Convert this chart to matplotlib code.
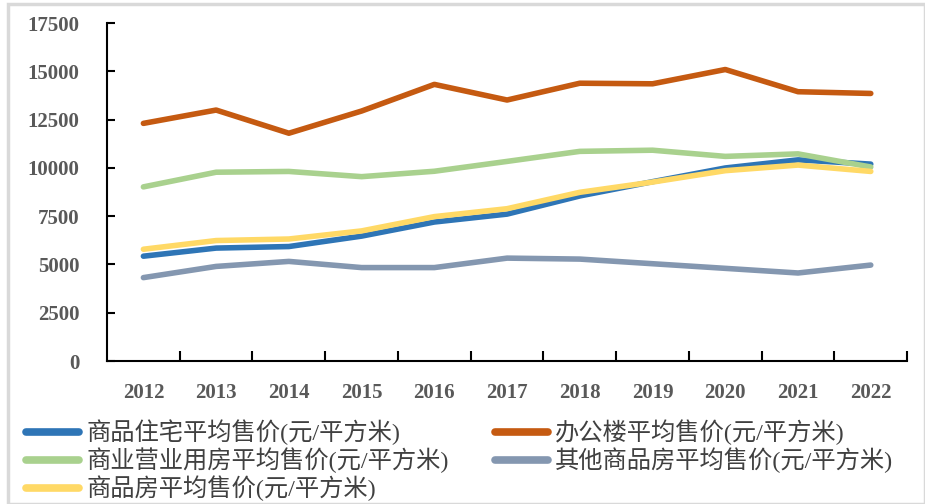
import matplotlib
matplotlib.use("Agg")
import matplotlib.pyplot as plt
from matplotlib.patches import Rectangle

years = ["2012", "2013", "2014", "2015", "2016", "2017", "2018", "2019", "2020", "2021", "2022"]

residential = [5430, 5850, 5930, 6470, 7200, 7610, 8550, 9290, 10000, 10420, 10200]
office = [12310, 13000, 11800, 12950, 14330, 13520, 14390, 14360, 15100, 13950, 13860]
commercial = [9020, 9780, 9820, 9550, 9830, 10340, 10860, 10920, 10600, 10730, 10050]
other = [4320, 4900, 5160, 4840, 4840, 5330, 5280, 5040, 4800, 4560, 4970]
overall = [5790, 6240, 6320, 6740, 7480, 7890, 8740, 9270, 9860, 10150, 9820]

labels = [
    "商品住宅平均售价(元/平方米)",
    "办公楼平均售价(元/平方米)",
    "商业营业用房平均售价(元/平方米)",
    "其他商品房平均售价(元/平方米)",
    "商品房平均售价(元/平方米)",
]
colors = ["#2E75B6", "#C55A11", "#A9D18E", "#8497B0", "#FFD966"]
series = [residential, office, commercial, other, overall]

fig = plt.figure(figsize=(9.25, 5.04), dpi=100)
ax = fig.add_axes([0.1157, 0.2837, 0.865, 0.6703])

x = list(range(len(years)))
lines = []
for vals, c, lab in zip(series, colors, labels):
    ln, = ax.plot(x, vals, color=c, lw=4.0, label=lab, solid_capstyle="round")
    lines.append(ln)

ax.set_xlim(-0.5, len(years) - 0.5)
ax.set_ylim(0, 17500)
ax.set_yticks(range(0, 17501, 2500))
num_font = dict(family="Liberation Serif", weight="bold", size=15, color="#595959")
ax.set_yticklabels([str(v) for v in range(0, 17501, 2500)], **num_font)
ax.tick_params(axis="y", direction="in", length=6, width=1.5, pad=20)

ax.set_xticks([i + 0.5 for i in x])
ax.tick_params(axis="x", direction="in", length=7, width=1.5, labelbottom=False)
for i, yr in enumerate(years):
    ax.text(i, -0.065, yr, transform=ax.get_xaxis_transform(), ha="center", va="top", **num_font)

for s in ["top", "right"]:
    ax.spines[s].set_visible(False)
for s in ["left", "bottom"]:
    ax.spines[s].set_linewidth(1.5)
    ax.spines[s].set_color("black")

order = [0, 2, 4, 1, 3]
leg = fig.legend([lines[i] for i in order], [labels[i] for i in order],
                 ncol=2, loc="upper left", bbox_to_anchor=(0.028, 0.168),
                 frameon=False, handlelength=2.2, handletextpad=0.28,
                 columnspacing=1.9, labelspacing=0.1, borderaxespad=0,
                 borderpad=0,
                 prop=dict(family=["Liberation Serif", "Noto Sans CJK SC"], size=17.5))
for t in leg.get_texts():
    t.set_color("#404040")
for h in leg.get_lines():
    h.set_linewidth(5.5)

fig.patches.append(Rectangle((8 / 925, 0), 1 - 8 / 925, 1 - 4 / 504, transform=fig.transFigure,
                             fill=False, edgecolor="#d9d9d9", lw=2.5))

fig.savefig("out.png", dpi=100)
